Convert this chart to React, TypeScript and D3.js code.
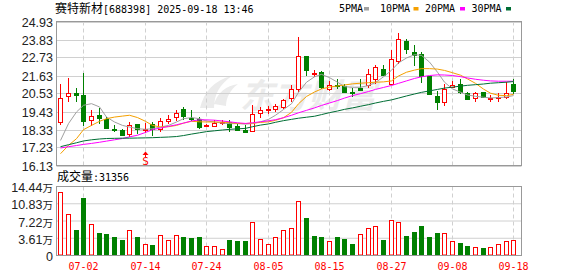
import React from "react";
import * as d3 from "d3";

const dates = [
  "06-27","06-30","07-01","07-02","07-03","07-04","07-07","07-08","07-09","07-10",
  "07-11","07-14","07-15","07-16","07-17","07-18","07-21","07-22","07-23","07-24",
  "07-25","07-28","07-29","07-30","07-31","08-01","08-04","08-05","08-06","08-07",
  "08-08","08-11","08-12","08-13","08-14","08-15","08-18","08-19","08-20","08-21",
  "08-22","08-25","08-26","08-27","08-28","08-29","09-01","09-02","09-03","09-04",
  "09-05","09-08","09-09","09-10","09-11","09-12","09-15","09-16","09-17","09-18",
];
const open = [
  18.79,20.36,20.53,20.44,18.93,19.20,18.99,18.36,18.32,18.08,
  18.65,18.32,18.69,18.38,18.83,19.09,19.57,19.06,18.95,18.54,
  18.54,18.73,18.79,18.52,18.32,18.23,19.36,19.52,19.57,19.71,
  20.28,20.81,22.81,21.71,21.83,20.81,21.06,20.97,20.65,20.85,
  21.02,21.39,22.00,21.12,22.49,23.72,23.06,22.96,21.63,20.36,
  20.04,20.93,21.12,20.56,20.24,20.61,20.18,20.24,20.30,21.12,
];
const high = [
  21.10,21.45,20.87,21.79,19.50,19.64,19.09,18.58,18.38,18.79,
  18.69,18.73,18.79,19.06,19.20,19.55,19.71,19.55,19.09,18.69,
  18.89,18.89,18.89,18.69,18.58,19.81,19.71,19.75,19.91,20.22,
  21.04,23.98,22.85,21.97,21.88,21.32,21.39,21.12,20.85,21.42,
  22.04,22.28,22.28,23.20,24.22,23.88,23.47,23.06,21.63,20.71,
  21.12,21.32,21.39,20.65,20.61,20.65,20.44,20.55,21.22,21.39,
];
const low = [
  18.58,20.01,20.01,18.54,18.52,18.69,18.36,18.15,17.91,17.87,
  18.08,18.11,17.91,18.17,18.69,18.85,18.89,18.85,18.38,18.48,
  18.48,18.63,18.17,18.23,18.20,18.23,19.06,19.30,19.40,19.61,
  19.98,20.60,21.57,21.53,20.81,20.71,20.81,20.55,20.30,20.71,
  20.85,21.12,21.63,21.02,22.34,22.96,22.20,21.18,20.44,19.55,
  19.79,20.85,20.50,20.16,20.00,20.24,20.04,20.00,20.20,20.50,
];
const close = [
  20.28,20.59,20.44,18.83,19.14,19.03,18.42,18.28,17.97,18.63,
  18.34,18.38,18.34,18.85,18.99,19.34,19.15,18.95,18.48,18.60,
  18.75,18.79,18.48,18.28,18.20,19.30,19.55,19.58,19.77,20.12,
  20.79,22.80,21.94,21.77,20.91,21.06,20.97,20.65,20.56,20.77,
  21.73,22.14,21.67,22.61,23.84,23.26,22.89,21.63,20.50,20.00,
  20.81,21.02,20.65,20.20,20.56,20.30,20.24,20.30,20.56,20.71,
];
// volume in 万 (10k shares)
const volume = [
  13.33,8.72,5.37,12.07,6.63,4.81,4.60,3.97,3.14,5.37,
  3.77,2.44,2.30,4.32,3.28,4.32,3.77,3.56,3.90,2.02,
  2.02,1.39,3.14,2.93,2.93,7.04,3.49,2.44,3.90,5.37,
  5.79,11.44,7.88,4.18,3.97,2.93,3.77,3.35,2.51,4.53,
  5.79,6.21,3.14,7.46,7.04,4.18,5.02,6.07,3.77,4.81,
  4.81,3.07,2.72,2.09,1.81,1.67,1.81,2.51,3.07,3.14,
];
const volUp = [
  1,1,0,0,1,0,0,0,0,1,
  0,1,0,1,1,1,0,0,0,1,
  1,1,0,0,0,1,1,1,1,1,
  1,1,0,0,0,1,0,0,0,1,
  1,1,0,1,1,0,0,0,0,0,
  1,1,0,0,1,0,1,1,1,1,
];
const ma5 = [
  17.66,18.69,19.40,19.81,19.91,19.71,19.09,18.79,18.58,18.48,
  18.38,18.34,18.38,18.48,18.58,18.79,18.99,19.06,18.99,18.85,
  18.79,18.72,18.69,18.69,18.66,18.69,18.80,18.95,19.20,19.55,
  19.90,20.60,21.22,21.55,21.70,21.50,21.22,20.95,20.91,20.91,
  21.02,21.20,21.55,21.95,22.40,22.70,22.90,22.86,22.45,21.83,
  21.22,20.81,20.61,20.44,20.36,20.30,20.26,20.28,20.32,20.40,
];
const ma10 = [
  16.85,17.36,17.77,18.32,18.58,18.83,18.99,19.09,19.15,19.20,
  19.06,18.83,18.58,18.48,18.50,18.58,18.72,18.83,18.80,18.79,
  18.79,18.78,18.75,18.70,18.69,18.72,18.76,18.80,18.89,19.05,
  19.38,19.90,20.35,20.62,20.81,20.92,20.99,21.05,21.12,21.16,
  21.19,21.22,21.24,21.30,21.60,21.83,21.96,22.05,22.05,22.02,
  21.94,21.80,21.65,21.42,21.15,20.80,20.55,20.42,20.40,20.48,
];
const ma20 = [
  17.20,17.28,17.35,17.42,17.48,17.55,17.62,17.70,17.78,17.88,
  17.98,18.15,18.32,18.42,18.52,18.62,18.72,18.85,18.92,18.92,
  18.90,18.85,18.80,18.74,18.70,18.74,18.80,18.86,18.93,19.05,
  19.20,19.35,19.50,19.65,19.80,19.95,20.10,20.25,20.40,20.52,
  20.65,20.78,20.90,21.02,21.15,21.30,21.45,21.55,21.63,21.67,
  21.66,21.63,21.56,21.48,21.40,21.34,21.30,21.28,21.28,21.28,
];
const ma30 = [
  17.28,17.40,17.52,17.63,17.70,17.75,17.78,17.79,17.80,17.80,
  17.81,17.82,17.83,17.85,17.87,17.90,17.96,18.05,18.13,18.20,
  18.25,18.30,18.34,18.37,18.40,18.50,18.60,18.67,18.77,18.87,
  18.95,19.02,19.08,19.14,19.24,19.36,19.46,19.56,19.65,19.75,
  19.85,19.95,20.05,20.14,20.25,20.38,20.50,20.60,20.69,20.78,
  20.86,20.92,20.98,21.03,21.07,21.11,21.16,21.19,21.22,21.26,
];
const priceTicks = [24.93, 23.83, 22.73, 21.63, 20.53, 19.43, 18.33, 17.23, 16.13];
const volTicks = ["14.44", "10.83", "7.22", "3.61", "0"];
const volTickValues = [14.44, 10.83, 7.22, 3.61, 0];
const xTickDates = ["07-02", "07-14", "07-24", "08-05", "08-15", "08-27", "09-08", "09-18"];
const legendNames = ["5PMA", "10PMA", "20PMA", "30PMA"];
const signalDate = "07-14";

const RED = "#ff0000";
const GREEN = "#008000";
const MA_COLORS = ["#a0a0a0", "#f5a000", "#ff00ff", "#006e35"];
const GRID = "#d0d0d0";
const FRAME = "#999999";
const MONO = "'DejaVu Sans Mono', monospace";
const CJK = "'Noto Sans CJK SC', sans-serif";
const AX = "'Liberation Sans', Arial, sans-serif";

const L = 56.5, R = 521.5;
const PT = 21.5, PB = 165.5;
const VT = 186.5, VB = 255.5;

export default function App() {
  const x = d3.scaleBand<string>().domain(dates).range([56.5, 517.3]).padding(0);
  const cx = (d: string) => Math.round((x(d) as number) + x.bandwidth() / 2);
  const y = d3.scaleLinear().domain([16.13, 24.93]).range([PB, PT]);
  const yv = d3.scaleLinear().domain([0, 14.44]).range([VB, VT]);

  const mas = [ma5, ma10, ma20, ma30];
  const line = d3
    .line<number>()
    .x((_, i) => cx(dates[i]) + 0.5)
    .y((v) => y(v));

  const legendX = [339, 380, 425, 471.5];
  const legendW = [25, 33.5, 35, 34.5];

  return (
    <svg
      width={578}
      height={276}
      style={{ position: "absolute", left: 0, top: 0, background: "#fff" }}
    >
      <rect x={0} y={0} width={578} height={276} fill="#fff" />
      {/* title */}
      <text x={55} y={12.5} fill="#000">
        <tspan fontFamily={CJK} fontSize={12}>赛特新材</tspan>
        <tspan fontFamily={MONO} fontSize={10}>[688398] 2025-09-18 13:46</tspan>
      </text>
      {/* legend */}
      {legendNames.map((n, i) => (
        <g key={n}>
          <text x={legendX[i]} y={12} fontFamily={MONO} fontSize={10} fill="#000">
            {n}
          </text>
          <rect x={legendX[i] + legendW[i]} y={7} width={5} height={3.5} fill={MA_COLORS[i]} />
        </g>
      ))}

      {/* watermark */}
      <g fill="#ebebeb">
        <path d="M200,108 C204,92 214,80 232,76 C220,84 214,94 214,108 Z M214,104 C218,92 226,86 238,84 C230,90 226,98 226,106 Z" />
        <text
          x={240}
          y={108}
          fontFamily={CJK}
          fontSize={34}
          fontWeight={700}
          fontStyle="italic"
        >
          东方财富
        </text>
      </g>

      {/* price grid */}
      {priceTicks.map((t) => (
        <line key={t} x1={L} x2={R} y1={Math.round(y(t)) + 0.5} y2={Math.round(y(t)) + 0.5} stroke={GRID} />
      ))}
      {xTickDates.map((d) => (
        <line
          key={d}
          x1={cx(d) + 0.5}
          x2={cx(d) + 0.5}
          y1={PT}
          y2={PB}
          stroke={GRID}
          strokeDasharray="4,3"
        />
      ))}
      {priceTicks.map((t) => (
        <text
          key={"l" + t}
          x={53}
          y={Math.round(y(t)) + 0.5}
          dy="0.35em"
          textAnchor="end"
          fontFamily={AX}
          fontSize={12.5}
          fill="#222"
        >
          {t.toFixed(2)}
        </text>
      ))}

      {/* candles */}
      {dates.map((d, i) => {
        const up = close[i] >= open[i];
        const c = up ? RED : GREEN;
        const xc = cx(d);
        const top = Math.round(y(Math.max(open[i], close[i])));
        const bot = Math.round(y(Math.min(open[i], close[i])));
        const h = Math.max(1, bot - top);
        return (
          <g key={d}>
            <line
              x1={xc + 0.5}
              x2={xc + 0.5}
              y1={Math.round(y(high[i]))}
              y2={Math.round(y(low[i]))}
              stroke={c}
            />
            {up ? (
              <rect x={xc - 1.5} y={top + 0.5} width={4} height={h} fill="#fff" stroke={c} />
            ) : (
              <rect x={xc - 2} y={top} width={5} height={h + 1} fill={c} />
            )}
          </g>
        );
      })}

      {/* moving averages */}
      {mas.map((m, k) => (
        <path key={k} d={line(m) as string} fill="none" stroke={MA_COLORS[k]} strokeWidth={1} />
      ))}

      {/* signal marker */}
      <g>
        <path
          d={`M${cx(signalDate) + 0.5},${151.5} L${cx(signalDate) + 3.5},${155} L${cx(signalDate) - 2.5},${155} Z`}
          fill={RED}
        />
        <line x1={cx(signalDate) + 0.5} x2={cx(signalDate) + 0.5} y1={155} y2={157} stroke={RED} />
        <text
          x={cx(signalDate) + 0.5}
          y={164.5}
          textAnchor="middle"
          fontFamily={MONO}
          fontSize={11}
          fill={RED}
        >
          S
        </text>
      </g>

      <rect x={L} y={PT} width={R - L} height={PB - PT} fill="none" stroke={FRAME} />

      {/* volume panel */}
      <text x={57} y={181} fill="#000">
        <tspan fontFamily={CJK} fontSize={12}>成交量</tspan>
        <tspan fontFamily={MONO} fontSize={10}>:31356</tspan>
      </text>
      {volTickValues.map((t) => (
        <line key={t} x1={L} x2={R} y1={yv(t)} y2={yv(t)} stroke={GRID} />
      ))}
      {xTickDates.map((d) => (
        <line
          key={"v" + d}
          x1={cx(d) + 0.5}
          x2={cx(d) + 0.5}
          y1={VT}
          y2={VB}
          stroke={GRID}
          strokeDasharray="4,3"
        />
      ))}
      {volTickValues.map((t, i) => (
        <text
          key={"vl" + t}
          x={53}
          y={yv(t)}
          dy="0.35em"
          textAnchor="end"
          fill="#222"
        >
          <tspan fontFamily={AX} fontSize={12.5}>{volTicks[i]}</tspan>
          {t > 0 ? <tspan fontFamily={CJK} fontSize={10.5}>万</tspan> : null}
        </text>
      ))}
      {dates.map((d, i) => {
        const xc = cx(d);
        const top = Math.round(yv(volume[i]));
        const h = VB - 0.5 - top;
        return volUp[i] ? (
          <rect key={"vb" + d} x={xc - 1.5} y={top + 0.5} width={4} height={h - 0.5} fill="#fff" stroke={RED} />
        ) : (
          <rect key={"vb" + d} x={xc - 2} y={top} width={5} height={h} fill={GREEN} />
        );
      })}
      <rect x={L} y={VT} width={R - L} height={VB - VT} fill="none" stroke={FRAME} />

      {/* x axis labels */}
      {xTickDates.map((d) => (
        <text
          key={"xl" + d}
          x={cx(d) + 0.5}
          y={270}
          textAnchor="middle"
          fontFamily={MONO}
          fontSize={10}
          fill={RED}
        >
          {d}
        </text>
      ))}
    </svg>
  );
}
